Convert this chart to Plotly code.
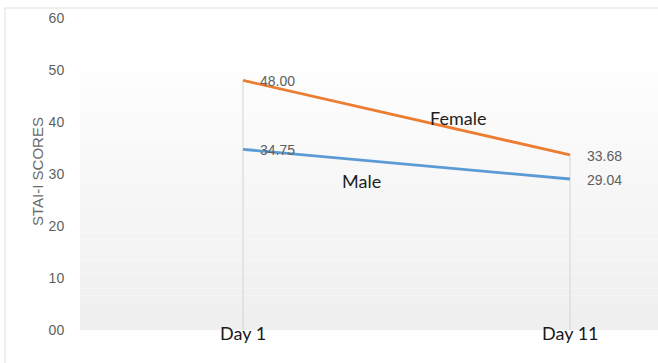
import plotly.graph_objects as go

# ---- data ----
categories = ["Day 1", "Day 11"]
female = [48.00, 33.68]
male = [34.75, 29.04]
y_ticks = [0, 10, 20, 30, 40, 50, 60]
y_tick_labels = ["00", "10", "20", "30", "40", "50", "60"]
y_title = "STAI-I SCORES"

W, H = 658, 363
ML, MR, MT, MB = 80, 0, 18, 33
PW = W - ML - MR
PH = H - MT - MB

fig = go.Figure()

# gradient plot background (white at top -> light grey at bottom)
shapes = []
n = 40
top_val = 53.5
for i in range(n):
    y0 = top_val * i / n
    y1 = top_val * (i + 1) / n
    t = i / (n - 1)
    c = int(239 + (255 - 239) * t)
    shapes.append(dict(type="rect", xref="paper", yref="y", x0=0, x1=1, y0=y0, y1=y1,
                       fillcolor=f"rgb({c},{c},{c})", line=dict(width=0), layer="below"))

# outer frame (left and top borders visible)
shapes.append(dict(type="rect", xref="paper", yref="paper",
                   x0=(5 - ML) / PW, x1=(W + 20 - ML) / PW,
                   y0=-(H + 20 - MT - PH) / PH, y1=1 + (MT - 8) / PH,
                   line=dict(color="#dedede", width=1), fillcolor="rgba(0,0,0,0)", layer="below"))

# drop lines
for cat, f, m in zip(categories, female, male):
    fig.add_trace(go.Scatter(x=[cat, cat], y=[0, max(f, m)], mode="lines",
                             line=dict(color="#d4d4d4", width=1), hoverinfo="skip",
                             showlegend=False))

fig.add_trace(go.Scatter(x=categories, y=female, mode="lines", name="Female",
                         line=dict(color="#ED7D31", width=2.8), showlegend=False))
fig.add_trace(go.Scatter(x=categories, y=male, mode="lines", name="Male",
                         line=dict(color="#5B9BD5", width=2.8), showlegend=False))

annotations = []
# data labels
for series in (female, male):
    for cat, v in zip(categories, series):
        annotations.append(dict(x=cat, y=v, xref="x", yref="y", text=f"{v:.2f}",
                                showarrow=False, xanchor="left", yanchor="middle",
                                xshift=15, yshift=-1,
                                font=dict(family="Liberation Sans", size=14, color="#606060")))
# series names
annotations.append(dict(x=0.657, y=40.8, xref="x", yref="y", text="Female", showarrow=False,
                        font=dict(family="Lato", size=18, color="#1e1e1e")))
annotations.append(dict(x=0.361, y=28.6, xref="x", yref="y", text="Male", showarrow=False,
                        font=dict(family="Lato", size=18, color="#1e1e1e")))
# category labels
for cat in categories:
    annotations.append(dict(x=cat, y=0, xref="x", yref="y", text=cat, showarrow=False,
                            yanchor="middle", yshift=-3,
                            font=dict(family="Lato", size=18, color="#1a1a1a")))
# y axis title
annotations.append(dict(x=(37 - ML) / PW, y=(330 - 172) / PH,
                        xref="paper", yref="paper", text=y_title, textangle=-90,
                        showarrow=False, xanchor="center", yanchor="middle",
                        font=dict(family="Liberation Sans", size=15, color="#6a6a6a")))

fig.update_layout(
    width=W, height=H,
    margin=dict(l=ML, r=MR, t=MT, b=MB),
    paper_bgcolor="white", plot_bgcolor="rgba(0,0,0,0)",
    shapes=shapes, annotations=annotations,
    xaxis=dict(type="category", range=[-163 / 327, -163 / 327 + PW / 327],
               showticklabels=False, showgrid=False, zeroline=False, showline=False,
               ticks=""),
    yaxis=dict(range=[0, 60], tickvals=y_ticks, ticktext=y_tick_labels,
               showgrid=False, zeroline=False, showline=False,
               ticks="outside", ticklen=12, tickcolor="rgba(0,0,0,0)",
               tickfont=dict(family="Liberation Sans", size=14, color="#5f5f5f")),
)

fig.write_html("out.html")
